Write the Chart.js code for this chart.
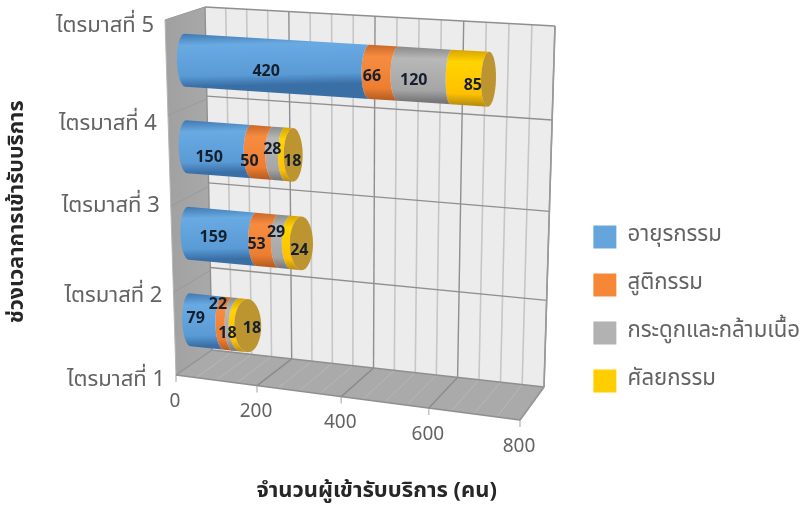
<!DOCTYPE html>
<html><head><meta charset="utf-8">
<style>html,body{margin:0;padding:0;background:#fff}#wrap{width:803px;height:507px}</style>
<script src="https://cdn.jsdelivr.net/npm/chart.js@4"></script>
</head><body><div id="wrap"><canvas id="c" width="803" height="507"></canvas></div>
<script>
// ---- data ----
const levelLabels = ['ไตรมาสที่ 1','ไตรมาสที่ 2','ไตรมาสที่ 3','ไตรมาสที่ 4','ไตรมาสที่ 5'];
const barLevels = [0.5,1.5,2.5,3.5];
const internal = [79,159,150,420];
const obstetric = [22,53,50,66];
const ortho = [18,29,28,120];
const surgery = [18,24,18,85];
const seriesNames = ['อายุรกรรม','สูติกรรม','กระดูกและกล้ามเนื้อ','ศัลยกรรม'];
const xTickLabels = [0,200,400,600,800];
// ---- camera / style ----
const FONT = "'Noto Sans Thai','Noto Sans','DejaVu Sans',sans-serif";
const LABEL_FONT = "bold 16px 'Open Sans','Noto Sans',sans-serif";
const MINOR = 50, MAJOR = 200;
function quad(p0,p1,p2,p3){
  const dx1=p1[0]-p2[0],dx2=p3[0]-p2[0],sx=p0[0]-p1[0]+p2[0]-p3[0];
  const dy1=p1[1]-p2[1],dy2=p3[1]-p2[1],sy=p0[1]-p1[1]+p2[1]-p3[1];
  const den=dx1*dy2-dx2*dy1,g=(sx*dy2-dx2*sy)/den,h=(dx1*sy-sx*dy1)/den;
  const a=p1[0]-p0[0]+g*p1[0],b=p3[0]-p0[0]+h*p3[0],d=p1[1]-p0[1]+g*p1[1],e=p3[1]-p0[1]+h*p3[1];
  return (u,v)=>{const w=g*u+h*v+1;return [(a*u+b*v+p0[0])/w,(d*u+e*v+p0[1])/w];};
}
function bilinear(p0,p1,p2,p3){
  return (u,v)=>[0,1].map(k=>{const lo=p0[k]+(p1[k]-p0[k])*u,hi=p3[k]+(p2[k]-p3[k])*u;return lo+(hi-lo)*v;});
}
const FB=[176,375],FR=[520,420],BB=[212,350],BR=[544,387],BT=[205,7],TR=[555,26],FT=[165,20];
const backPlane = quad(BB,BR,TR,BT);
const sidePlane = quad(FB,BB,BT,FT);
const barPlane = bilinear([191,363],[525,400],[538,37],[184,17]);
function frontEdge(u){const t=u/(u+(1-u)*1.082);return [FB[0]+(FR[0]-FB[0])*t,FB[1]+(FR[1]-FB[1])*t];}
// text nudges [series][row], in pixels
const labelNudge = [
 [[-11,-3.5],[-9,1],[-10,8],[-11,5]],
 [[-10,-19],[-11,4],[-13,9],[-12,4]],
 [[-9,8.5],[-9,-9],[-7,-4],[-11,5]],
 [[8,3],[3,8],[3,7],[3,7]]];
const levelNudge = [2,0,-4,5,3];
const shades = [
 ['#4179b0','#69aae3','#5a9bd6','#3a6fa6'],
 ['#c9682a','#f78c40','#ed7d31','#b95e22'],
 ['#8a8a8a','#b8b8b8','#a5a5a5','#777777'],
 ['#d9a400','#ffd400','#ffc000','#b98f10']];
const CAP = '#bd9530';

function seg(t,b,rx){
  const c=[(t[0]+b[0])/2,(t[1]+b[1])/2],ry=Math.hypot(b[0]-t[0],b[1]-t[1])/2,rot=Math.atan2(b[1]-t[1],b[0]-t[0])-Math.PI/2;
  return {c,ry,rot,rx};
}
function line(ctx,a,b,col,w){ctx.strokeStyle=col;ctx.lineWidth=w;ctx.beginPath();ctx.moveTo(a[0],a[1]);ctx.lineTo(b[0],b[1]);ctx.stroke();}
function poly(ctx,pts,fill,stroke,w){ctx.beginPath();pts.forEach((p,i)=>i?ctx.lineTo(p[0],p[1]):ctx.moveTo(p[0],p[1]));ctx.closePath();ctx.fillStyle=fill;ctx.fill();if(stroke){ctx.strokeStyle=stroke;ctx.lineWidth=w;ctx.stroke();}}

function cylDraw(ctx){
  const chart=this.$chart, a=chart.chartArea, ds=this.$ds, row=this.$row;
  const nu=px=>(px-a.left)/(a.right-a.left), nv=py=>(a.bottom-py)/(a.bottom-a.top);
  const p=this.getProps(['x','y','base','height'],true);
  const vt=nv(p.y-p.height/2), vb=nv(p.y+p.height/2), u0=nu(p.base), u1=nu(p.x);
  const t0=barPlane(u0,vt),b0=barPlane(u0,vb),t1=barPlane(u1,vt),b1=barPlane(u1,vb);
  const n=chart.data.datasets.length, last=ds===n-1;
  const capRx=14.5-2*barLevels[row], seamRx=capRx-2;
  const rxStart=last?seamRx:8, rxEnd=last?capRx:(ds===n-2?seamRx:8);
  const A=seg(t0,b0,rxStart),B=seg(t1,b1,rxEnd);
  const g=ctx.createLinearGradient(t0[0],t0[1],b0[0],b0[1]);
  const s=shades[ds];
  g.addColorStop(0,s[0]);g.addColorStop(.22,s[1]);g.addColorStop(.8,s[2]);g.addColorStop(1,s[3]);
  ctx.save();
  ctx.beginPath();
  ctx.ellipse(A.c[0],A.c[1],A.rx,A.ry,A.rot,-Math.PI/2,Math.PI/2,true);
  ctx.ellipse(B.c[0],B.c[1],B.rx,B.ry,B.rot,Math.PI/2,-Math.PI/2,false);
  ctx.closePath();ctx.fillStyle=g;ctx.fill();
  if(last){
    ctx.beginPath();ctx.ellipse(B.c[0],B.c[1],B.rx,B.ry,B.rot,0,Math.PI*2);
    ctx.fillStyle=CAP;ctx.fill();
  }
  ctx.restore();
}

const scene={
  id:'scene',
  afterLayout(chart){ const L=chart.legend; L.top=200.5; L.bottom=500; L.left+=7; L.right+=7; },
  beforeDatasetsDraw(chart){
    const ctx=chart.ctx,X=chart.scales.x;
    const u=v=>(X.getPixelForValue(v)-chart.chartArea.left)/(chart.chartArea.right-chart.chartArea.left);
    const levels=levelLabels.length-1;
    ctx.save();
    const wg=ctx.createLinearGradient(165,0,212,0);wg.addColorStop(0,'#a0a0a0');wg.addColorStop(1,'#a9a9a9');
    poly(ctx,[FB,BB,BT,FT],wg,'#b5b5b5',1);
    poly(ctx,[BB,BR,TR,BT],'#ececec',null);
    poly(ctx,[FB,FR,BR,BB],'#aaaaaa',null);
    for(let v=0;v<=X.max;v+=MINOR){
      const major=v%MAJOR===0, uu=u(v), f=frontEdge(uu), b=backPlane(uu,0);
      line(ctx,b,backPlane(uu,1),major?'#8f8f8f':'#c6c6c6',major?1.4:1.6);
      line(ctx,f,b,major?'#8a8a8a':'#b8b8b8',major?1.4:1);
      if(major){line(ctx,f,[f[0],f[1]+7],'#bdbdbd',1.4);}
    }
    for(let l=0;l<=levels;l++){
      const v=l/levels;
      line(ctx,backPlane(0,v),backPlane(1,v),'#8f8f8f',1.4);
      line(ctx,sidePlane(0,v),sidePlane(1,v),'#9a9a9a',1);
    }
    line(ctx,BR,TR,'#9a9a9a',1.6);
    line(ctx,FB,FR,'#8f8f8f',1.6);
    line(ctx,FR,BR,'#9a9a9a',1.4);
    ctx.restore();
    chart.data.datasets.forEach((d,i)=>{
      chart.getDatasetMeta(i).data.forEach((el,j)=>{el.$chart=chart;el.$ds=i;el.$row=j;el.draw=cylDraw;});
    });
  },
  afterDatasetsDraw(chart){
    const ctx=chart.ctx,a=chart.chartArea,X=chart.scales.x;
    const nu=px=>(px-a.left)/(a.right-a.left), nv=py=>(a.bottom-py)/(a.bottom-a.top);
    ctx.save();
    ctx.font=LABEL_FONT;ctx.fillStyle='#14202e';ctx.textAlign='center';ctx.textBaseline='middle';
    chart.data.datasets.forEach((d,i)=>{
      chart.getDatasetMeta(i).data.forEach((el,j)=>{
        const q=barPlane(nu((el.x+el.base)/2),nv(el.y));
        const n=labelNudge[i][j];
        ctx.fillText(String(d.data[j].x),q[0]+n[0],q[1]+n[1]);
      });
    });
    ctx.fillStyle='#636363';ctx.font="19px "+FONT;
    xTickLabels.forEach(v=>{
      const f=frontEdge(nu(X.getPixelForValue(v)));
      ctx.fillText(String(v),f[0]-1,f[1]+28);
    });
    ctx.textAlign='right';ctx.font="22px "+FONT;
    levelLabels.forEach((t,i)=>{
      const f=sidePlane(0,i/(levelLabels.length-1));
      ctx.fillText(t,f[0]-11,f[1]+5+levelNudge[i]);
    });
    ctx.restore();
  }
};

const colors=['#65a5dc','#f58737','#b2b2b2','#ffcd00'];
const rows=[internal,obstetric,ortho,surgery];
new Chart(document.getElementById('c'),{
  type:'bar',
  data:{datasets:rows.map((vals,i)=>({
    label:seriesNames[i],
    data:vals.map((v,j)=>({x:v,y:barLevels[j]})),
    backgroundColor:colors[i],
    barPercentage:.61,categoryPercentage:1,clip:false
  }))},
  plugins:[scene],
  options:{
    indexAxis:'y',responsive:false,animation:false,
    layout:{padding:{top:20,bottom:1,right:0,left:6}},
    plugins:{
      tooltip:{enabled:false},
      legend:{position:'right',align:'start',fullSize:false,maxWidth:300,maxHeight:400,
        labels:{boxWidth:23,boxHeight:23,padding:25,color:'#636363',font:{family:FONT,size:22.2}}}
    },
    scales:{
      x:{stacked:true,min:0,max:800,border:{display:false},grid:{display:false},
        ticks:{display:false,stepSize:MINOR},
        title:{display:true,text:'จำนวนผู้เข้ารับบริการ (คน)',color:'#262626',font:{family:FONT,size:22,weight:'bold'},padding:{top:68,bottom:0}}},
      y:{stacked:true,type:'linear',offset:false,min:0,max:levelLabels.length-1,border:{display:false},grid:{display:false},
        ticks:{display:false,stepSize:1},
        afterFit(s){s.width=186;},
        title:{display:true,text:'ช่วงเวลาการเข้ารับบริการ',color:'#262626',font:{family:FONT,size:21.5,weight:'bold'},padding:0}}
    }
  }
});
</script></body></html>
